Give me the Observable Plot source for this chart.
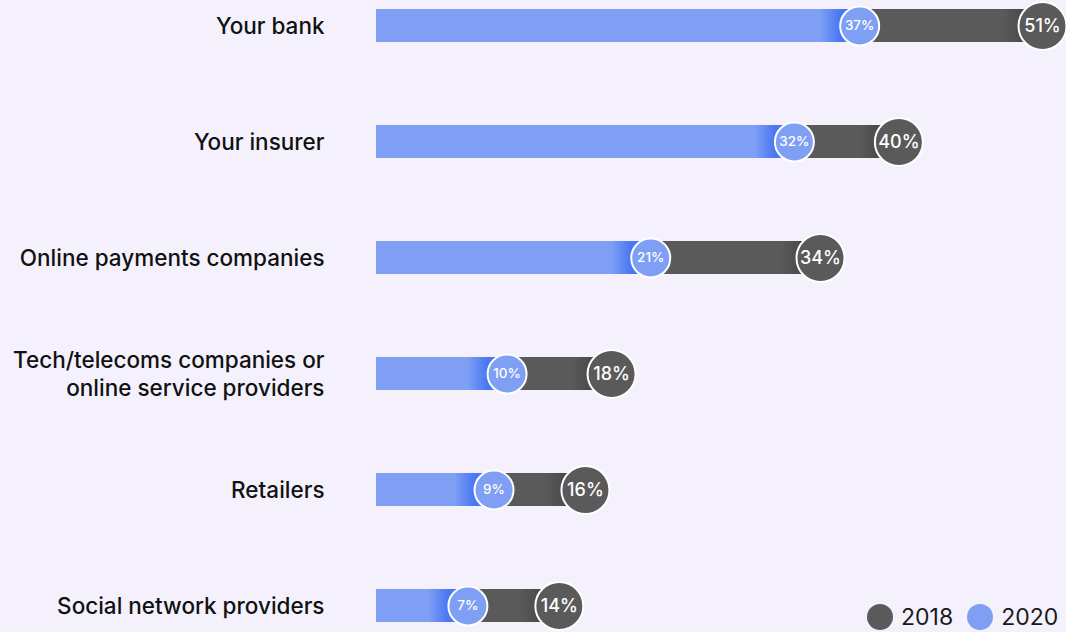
<!DOCTYPE html>
<html>
<head>
<meta charset="utf-8">
<script src="https://cdn.jsdelivr.net/npm/d3@7"></script>
<script src="https://cdn.jsdelivr.net/npm/@observablehq/plot@0.6"></script>
<style>
  html, body { margin: 0; padding: 0; background: #f4f1fd; }
  #wrap { position: relative; width: 1066px; height: 632px; font-family: Inter, "Noto Sans", sans-serif; }
  #legend { position: absolute; left: 867px; top: 603px; display: flex; align-items: center; font-size: 23px; color: #1a1a1a; }
  #legend .sw { width: 26px; height: 26px; border-radius: 50%; display: inline-block; margin-right: 8px; }
  #legend .item { display: flex; align-items: center; margin-right: 14px; }
</style>
</head>
<body>
<div id="wrap"><div id="legend"></div></div>
<script>
const categories = [
  "Your bank",
  "Your insurer",
  "Online payments companies",
  "Tech/telecoms companies or\nonline service providers",
  "Retailers",
  "Social network providers"
];
const values2018 = [51, 40, 34, 18, 16, 14];
const values2020 = [37, 32, 21, 10, 9, 7];
const seriesNames = ["2018", "2020"];
const colors = {"2018": "#5a5a5a", "2020": "#7f9ff5"};

const rows = categories.map((c, i) => ({cat: c, v18: values2018[i], v20: values2020[i]}));

const chart = Plot.plot({
  width: 1066,
  height: 632,
  marginLeft: 376,
  marginRight: 24,
  marginTop: 7,
  marginBottom: 9,
  style: {background: "transparent", fontFamily: "Inter, 'Noto Sans', sans-serif"},
  x: {domain: [0, 51], axis: null},
  y: {type: "band", domain: categories, paddingInner: 0.717, paddingOuter: 0, axis: null},
  marks: [
    Plot.barX(rows, {y: "cat", x1: 0, x2: "v18", fill: colors["2018"]}),
    Plot.barX(rows, {y: "cat", x1: d => d.v18 - 3, x2: "v18", fill: "url(#ggray)"}),
    Plot.barX(rows, {y: "cat", x1: 0, x2: "v20", fill: colors["2020"]}),
    Plot.barX(rows, {y: "cat", x1: d => d.v20 - 3, x2: "v20", fill: "url(#gblue)"}),
    Plot.dot(rows, {y: "cat", x: "v18", r: 24, fill: colors["2018"], stroke: "white", strokeWidth: 2}),
    Plot.dot(rows, {y: "cat", x: "v20", r: 19.5, fill: colors["2020"], stroke: "white", strokeWidth: 2}),
    Plot.text(rows, {y: "cat", x: "v18", text: d => d.v18 + "%", fill: "white", fontSize: 18, fontWeight: 500}),
    Plot.text(rows, {y: "cat", x: "v20", text: d => d.v20 + "%", fill: "white", fontSize: 13.5, fontWeight: 500}),
    Plot.text(rows, {y: "cat", x: 0, dx: -52, dy: -1, text: "cat", textAnchor: "end", fontSize: 22.5, fontWeight: 500, fill: "#111", lineHeight: 1.25})
  ]
});

const svg = d3.select(chart);
const defs = svg.insert("defs", ":first-child");
const gb = defs.append("linearGradient").attr("id", "gblue").attr("x1", 0).attr("x2", 1).attr("y1", 0).attr("y2", 0);
gb.append("stop").attr("offset", 0).attr("stop-color", "#4a78f3").attr("stop-opacity", 0);
gb.append("stop").attr("offset", 0.5).attr("stop-color", "#4a78f3").attr("stop-opacity", 1);
gb.append("stop").attr("offset", 1).attr("stop-color", "#4a78f3").attr("stop-opacity", 1);
const gg = defs.append("linearGradient").attr("id", "ggray").attr("x1", 0).attr("x2", 1).attr("y1", 0).attr("y2", 0);
gg.append("stop").attr("offset", 0).attr("stop-color", "#3a3a3a").attr("stop-opacity", 0);
gg.append("stop").attr("offset", 0.5).attr("stop-color", "#3a3a3a").attr("stop-opacity", 0.5);
gg.append("stop").attr("offset", 1).attr("stop-color", "#3a3a3a").attr("stop-opacity", 0.5);

document.getElementById("wrap").prepend(chart);

const legend = d3.select("#legend");
seriesNames.forEach(s => {
  const it = legend.append("div").attr("class", "item");
  it.append("span").attr("class", "sw").style("background", colors[s]);
  it.append("span").text(s);
});
</script>
</body>
</html>
